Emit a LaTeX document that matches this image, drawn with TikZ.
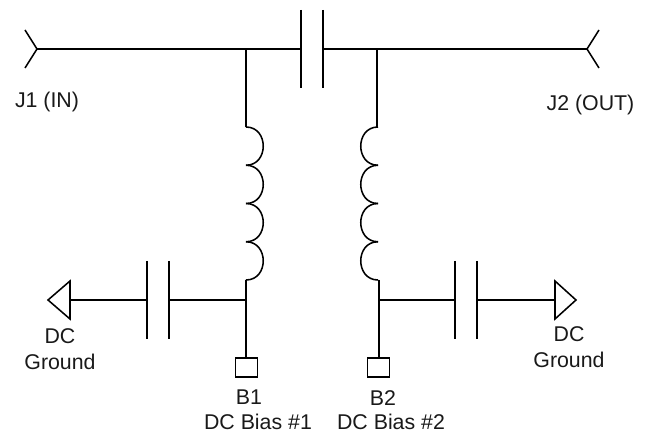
\documentclass[tikz,border=0pt]{standalone}
\usepackage{fontspec}
\setmainfont{Liberation Sans}
\begin{document}
\begin{tikzpicture}[x=0.75pt, y=-0.75pt, wire/.style={line width=1.15pt},
  pad/.style={draw, line width=1.15pt, minimum width=16.5pt, minimum height=14.5pt, inner sep=0pt},
  lbl/.style={font=\fontsize{16}{19.5}\selectfont, inner sep=0pt, text=black!90}]
\useasboundingbox (0,0) rectangle (649,434);
\coordinate (J1) at (37,49);
\coordinate (J1a) at (25,30);
\coordinate (J1b) at (25,68);
\coordinate (J2) at (587,49);
\coordinate (J2a) at (599,30);
\coordinate (J2b) at (599,68);
\coordinate (C1l) at (301,49);
\coordinate (C1r) at (323,49);
\coordinate (T1) at (246,49);
\coordinate (T2) at (377,49);
\coordinate (L1top) at (246,127);
\coordinate (L1bot) at (246,280);
\coordinate (L2top) at (377,127);
\coordinate (L2bot) at (379,280);
\coordinate (N1) at (246,300);
\coordinate (N2) at (378,300);
\coordinate (C2l) at (147,300);
\coordinate (C2r) at (169,300);
\coordinate (C3l) at (455,300);
\coordinate (C3r) at (477,300);
\coordinate (G1) at (70,300);
\coordinate (G2) at (555,300);
\node (B1) [pad] at (246.5,367.5) {};
\node (B2) [pad] at (378.5,367.5) {};
\draw[wire] (J1a) -- (J1) -- (J1b);
\draw[wire] (J2a) -- (J2) -- (J2b);
\draw[wire] (J1) -- (C1l);
\draw[wire] (C1r) -- (J2);
\draw[wire] (C1l)+(0,-39) -- +(0,39);
\draw[wire] (C1r)+(0,-39) -- +(0,39);
\draw[wire] (T1) -- (L1top);
\draw[wire] (T2) -- (L2top);
\foreach \y in {127,165.25,203.5,241.75} {
  \draw[wire] (246,\y) .. controls +(23,0) and +(23,0) .. (246,\y+38.25);
  \draw[wire] (378,\y) .. controls +(-23,0) and +(-23,0) .. (378,\y+38.25);
}
\draw[wire] (L1bot) -- (N1) -- (N1 |- B1.north);
\draw[wire] (L2bot) -- (L2bot |- B2.north);
\draw[wire] (N1) -- (C2r);
\draw[wire] (C2l) -- (G1);
\draw[wire] (N2) -- (C3l);
\draw[wire] (C3r) -- (G2);
\draw[wire] (C2l)+(0,-39) -- +(0,39);
\draw[wire] (C2r)+(0,-39) -- +(0,39);
\draw[wire] (C3l)+(0,-39) -- +(0,39);
\draw[wire] (C3r)+(0,-39) -- +(0,39);
\draw[wire] (G1)+(0,-19) -- +(-22,0) -- +(0,19) -- cycle;
\draw[wire] (G2)+(0,-19) -- +(21,0) -- +(0,19) -- cycle;
\node (J1txt) [lbl] at (47,102) {J1 (IN)};
\node (J2txt) [lbl] at (590.5,105) {J2 (OUT)};
\node (G1txt) [lbl, align=center] at (60,349.5) {DC\\Ground};
\node (G2txt) [lbl, align=center] at (569,347) {DC\\Ground};
\node (B1txt) [lbl] at (249,397) {B1};
\node (B1sub) [lbl] at (258,422) {DC Bias \#1};
\node (B2txt) [lbl] at (383,398) {B2};
\node (B2sub) [lbl] at (391,422) {DC Bias \#2};
\end{tikzpicture}
\end{document}
